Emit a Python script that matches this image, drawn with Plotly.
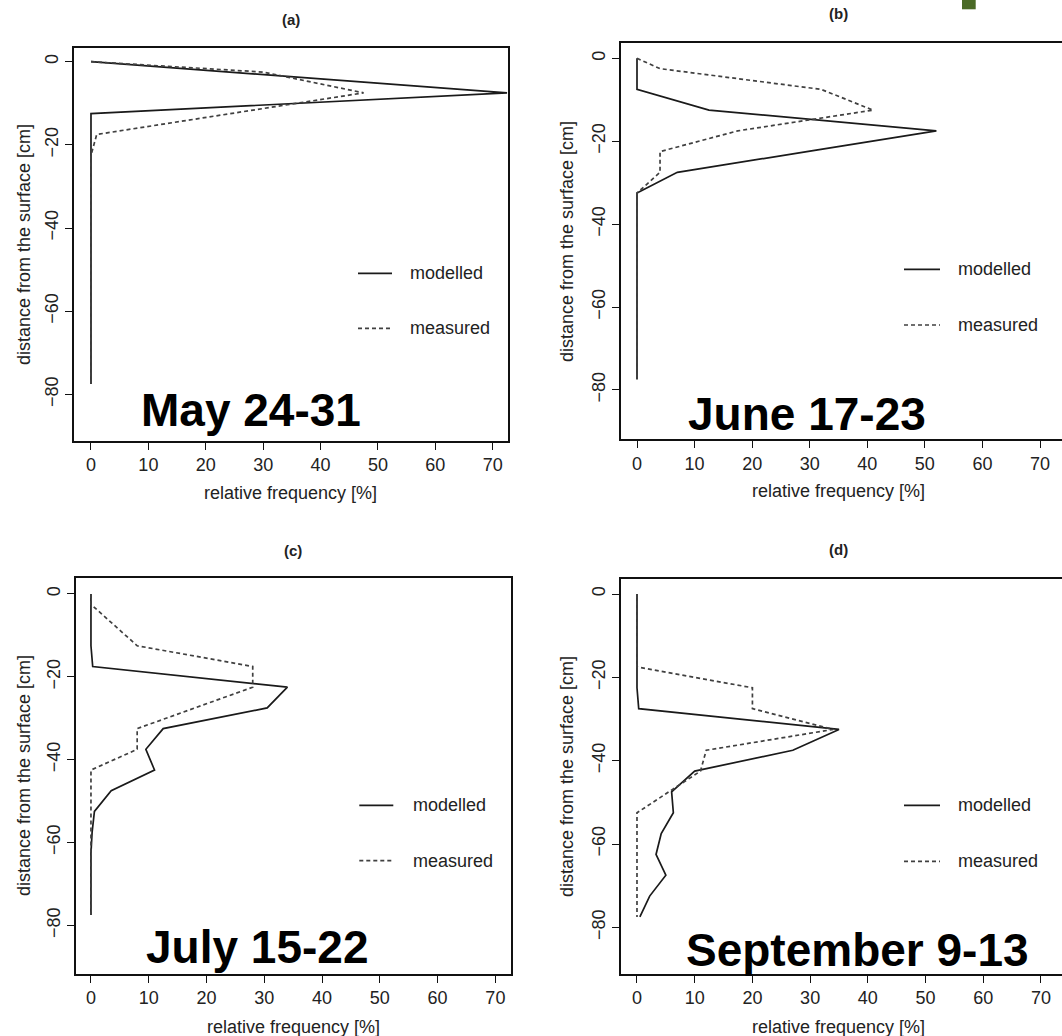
import plotly.graph_objects as go

# Canvas size in pixels
W, H = 1062, 1036

# ---- data -------------------------------------------------------------
depth_cm = [0, -2.5, -7.5, -12.5, -17.5, -22.5, -27.5, -32.5, -37.5,
            -42.5, -47.5, -52.5, -57.5, -62.5, -67.5, -72.5, -77.5]

panel_tags = ["(a)", "(b)", "(c)", "(d)"]
period_labels = ["May 24-31", "June 17-23", "July 15-22", "September 9-13"]
series_names = ["modelled", "measured"]

modelled_a = [0, 24.2, 72.5, 0, 0, 0, 0, 0, 0, 0, 0, 0, 0, 0, 0, 0, 0]
measured_a = [0, 30, 47.5, 24.5, 1, 0, 0, 0, 0, 0, 0, 0, 0, 0, 0, 0, 0]

modelled_b = [0, 0, 0, 12.5, 52, 29.5, 7, 0, 0, 0, 0, 0, 0, 0, 0, 0, 0]
measured_b = [0, 4, 32, 41, 17.5, 4, 4, 0, 0, 0, 0, 0, 0, 0, 0, 0, 0]

modelled_c = [0, 0, 0, 0, 0.3, 34, 30.5, 12.5, 9.5, 11, 3.5, 0.6, 0.2, 0, 0, 0, 0]
measured_c = [0, 0, 4, 8, 28, 28, 18, 8, 8, 0, 0, 0, 0, 0, 0, 0, 0]

modelled_d = [0, 0, 0, 0, 0, 0, 0.3, 35, 27, 10, 6, 6.3, 4.2, 3.3, 5, 2.2, 0.5]
measured_d = [0, 0, 0, 0, 0, 20, 20, 34, 12, 11, 5.5, 0, 0, 0, 0, 0, 0]

x_tick_vals = [0, 10, 20, 30, 40, 50, 60, 70]
y_tick_vals = [0, -20, -40, -60, -80]

x_title = "relative frequency [%]"
y_title = "distance from the surface [cm]"

panel_series = [
    (modelled_a, measured_a),
    (modelled_b, measured_b),
    (modelled_c, measured_c),
    (modelled_d, measured_d),
]

# ---- layout geometry (pixels) -----------------------------------------
# frame box: left, right, top, bottom ; axis ranges
panels = [
    dict(box=(74, 507.7, 48.3, 440.7), xr=(-2.96, 72.61), yr=(-91.15, 3.22),
         right_edge=True,
         tag=(291, 19), label=(251, 410), xt=(291, 492.7), yt=(24, 245),
         leg=(358, 392, 273.3, 328.3, 408)),
    dict(box=(621, W, 43.3, 439.3), xr=(-2.78, 73.82), yr=(-91.9, 3.62),
         right_edge=False,
         tag=(838, 13.3), label=(807, 414), xt=(838, 491), yt=(567, 242),
         leg=(904, 940, 269.3, 325, 956)),
    dict(box=(76, 510.7, 578, 973.7), xr=(-2.59, 72.65), yr=(-91.67, 3.86),
         right_edge=True,
         tag=(293, 550.3), label=(257, 947), xt=(293, 1027), yt=(24, 776),
         leg=(359.3, 393.3, 805.3, 860.7, 410.7)),
    dict(box=(621, W, 578.7, 974), xr=(-2.77, 73.64), yr=(-91.2, 3.68),
         right_edge=False,
         tag=(838, 549.7), label=(857, 950), xt=(838, 1027), yt=(567, 777),
         leg=(904, 940, 805.3, 861.3, 956)),
]

FONT = "Liberation Sans, Arial, Helvetica, sans-serif"
TEXT = "#222222"
AXIS = "#111111"
MOD_COLOR = "#1a1a1a"
MEAS_COLOR = "#404040"
MEAS_DASH = "4px,3px"
LW = 1.7


def px(x):
    return x / W


def py(y):
    return 1 - y / H


fig = go.Figure()
annotations = []
shapes = []
layout_axes = {}

for i, (p, (mod, meas)) in enumerate(zip(panels, panel_series)):
    n = "" if i == 0 else str(i + 1)
    L, R, T, B = p["box"]

    fig.add_trace(go.Scatter(
        x=mod, y=depth_cm, mode="lines", name=series_names[0],
        line=dict(color=MOD_COLOR, width=LW),
        xaxis="x" + n, yaxis="y" + n, showlegend=False, hoverinfo="skip"))
    fig.add_trace(go.Scatter(
        x=meas, y=depth_cm, mode="lines", name=series_names[1],
        line=dict(color=MEAS_COLOR, width=LW, dash=MEAS_DASH),
        xaxis="x" + n, yaxis="y" + n, showlegend=False, hoverinfo="skip"))

    layout_axes["xaxis" + n] = dict(
        domain=[px(L), min(1.0, px(R))], range=list(p["xr"]),
        anchor="y" + n, tickmode="array", tickvals=x_tick_vals,
        ticks="outside", ticklen=7, tickwidth=1.3, tickcolor=AXIS,
        showline=True, linecolor=AXIS, linewidth=1.6, mirror=True,
        showgrid=False, zeroline=False,
        tickfont=dict(family=FONT, size=18, color=TEXT))
    layout_axes["yaxis" + n] = dict(
        domain=[py(B), py(T)], range=list(p["yr"]),
        anchor="x" + n, tickmode="array", tickvals=y_tick_vals,
        ticks="outside", ticklen=7, tickwidth=1.3, tickcolor=AXIS,
        showline=True, linecolor=AXIS, linewidth=1.6,
        mirror=p["right_edge"], tickangle=-90,
        showgrid=False, zeroline=False,
        tickfont=dict(family=FONT, size=18, color=TEXT))

    # panel tag
    tx, ty = p["tag"]
    annotations.append(dict(
        x=px(tx), y=py(ty), xref="paper", yref="paper", text="<b>%s</b>" % panel_tags[i],
        showarrow=False, xanchor="center", yanchor="middle",
        font=dict(family=FONT, size=15, color=TEXT)))
    # period label
    lx, ly = p["label"]
    annotations.append(dict(
        x=px(lx), y=py(ly), xref="paper", yref="paper",
        text="<b>%s</b>" % period_labels[i],
        showarrow=False, xanchor="center", yanchor="middle",
        font=dict(family=FONT, size=46, color="#000000")))
    # axis titles
    xx, xy = p["xt"]
    annotations.append(dict(
        x=px(xx), y=py(xy), xref="paper", yref="paper", text=x_title,
        showarrow=False, xanchor="center", yanchor="middle",
        font=dict(family=FONT, size=18, color=TEXT)))
    yx, yy = p["yt"]
    annotations.append(dict(
        x=px(yx), y=py(yy), xref="paper", yref="paper", text=y_title,
        showarrow=False, xanchor="center", yanchor="middle", textangle=-90,
        font=dict(family=FONT, size=18, color=TEXT)))

    # in-panel key
    k0, k1, ky1, ky2, ktx = p["leg"]
    for name, yk, col, dash in ((series_names[0], ky1, MOD_COLOR, "solid"),
                                (series_names[1], ky2, MEAS_COLOR, MEAS_DASH)):
        shapes.append(dict(
            type="line", xref="paper", yref="paper",
            x0=px(k0), x1=px(k1), y0=py(yk), y1=py(yk),
            line=dict(color=col, width=LW, dash=dash)))
        annotations.append(dict(
            x=px(ktx), y=py(yk), xref="paper", yref="paper", text=name,
            showarrow=False, xanchor="left", yanchor="middle",
            font=dict(family=FONT, size=18, color=TEXT)))

# small green marker at the top edge
shapes.append(dict(
    type="rect", xref="paper", yref="paper",
    x0=px(962), x1=px(975.7), y0=py(9.3), y1=py(-2),
    line=dict(width=0), fillcolor="#4a6a26"))

fig.update_layout(
    width=W, height=H,
    margin=dict(l=0, r=0, t=0, b=0),
    paper_bgcolor="white", plot_bgcolor="white",
    showlegend=False, hovermode=False,
    annotations=annotations, shapes=shapes,
    font=dict(family=FONT, color=TEXT),
    **layout_axes)

fig.write_html("out.html", config={"displayModeBar": False})
